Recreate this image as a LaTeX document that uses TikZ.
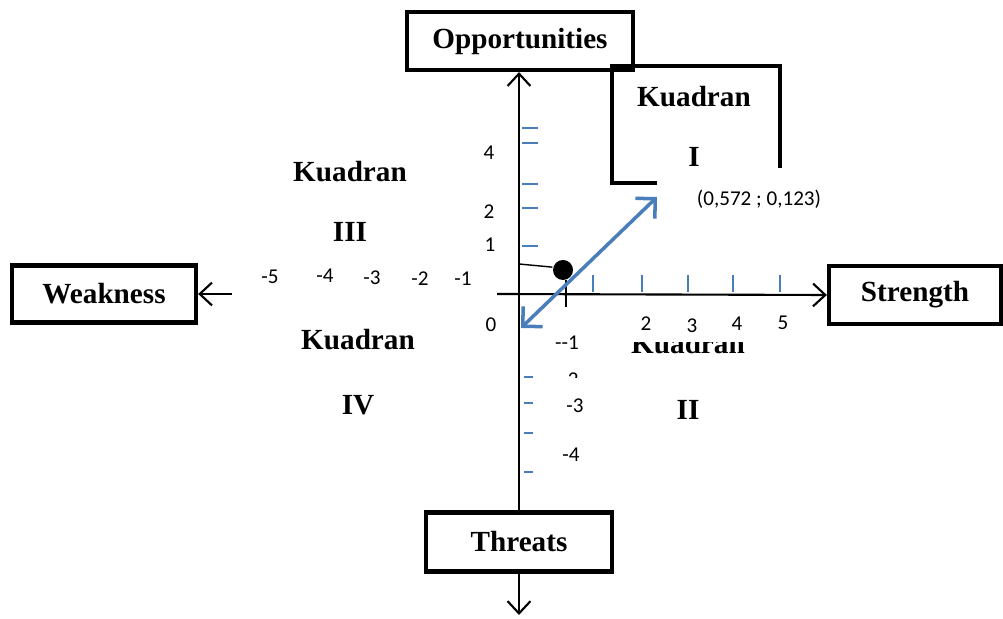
\documentclass[tikz,border=0pt]{standalone}
\usepackage{fontspec}
\setmainfont{Liberation Serif}
\newfontfamily\numfont{Carlito}
\usetikzlibrary{arrows.meta}
\definecolor{axisblue}{RGB}{74,126,187}
\tikzset{
  swotbox/.style={draw, line width=1.2pt, inner sep=0pt, font=\bfseries\fontsize{8.3}{10}\selectfont},
  kuadran/.style={inner sep=0pt, font=\bfseries\fontsize{8.3}{10}\selectfont},
  angka/.style={inner sep=0pt, font=\numfont\fontsize{6}{7}\selectfont},
  bluetick/.style={draw=axisblue, line width=0.45pt},
}
\begin{document}
\begin{tikzpicture}[x=0.01cm,y=-0.01cm,line width=0.6pt,>={Straight Barb[length=3.5pt,width=6.5pt]}]
                \useasboundingbox (0,0) rectangle (1003,619);
                % kotak SWOT
                \node[swotbox, minimum width=2.26cm, minimum height=0.58cm] (opp) at (520,41) {Opportunities};
                \node[swotbox, minimum width=1.84cm, minimum height=0.57cm] (weak) at (104,294) {Weakness};
                \node[swotbox, minimum width=1.72cm, minimum height=0.58cm] (str) at (915,295) {Strength};
                \node[swotbox, minimum width=1.86cm, minimum height=0.59cm] (thr) at (519,542) {Threats};
                % sumbu
                \coordinate (xkiri) at (497,294);
                \coordinate (wekor) at (232,294);
                \coordinate (bawah) at (519,615);
                \draw [->] (thr.north) -- (thr.north |- opp.south);
                \draw [->] (xkiri) -- (str.west);
                \draw [->] (wekor) -- (weak.east);
                \draw [->] (thr.south) -- (bawah);
                % kuadran I
                \draw [line width=1.2pt] (657,183) -- (612,183) -- (612,66) -- (780,66) -- (780,168);
                % skala
                \foreach \x in {593,642,688,733,780} \draw [bluetick] (\x,275) -- (\x,292);
                \foreach \y in {128,143,184,208,246} \draw [bluetick] (522,\y) -- (538,\y);
                \foreach \y in {377,403,433,472} \draw [bluetick] (524,\y) -- (533,\y);
                \foreach \t/\x/\y in {-5/270/277, -4/325/276, -3/372/278, -2/420/279, -1/463/279,
                        2/646/324, 3/692/326, 4/737/324, 5/783/323,
                        4/489/153, 2/489/212, 1/490/245, 0/491/325, -{}-1/567/343, -3/575/406, -4/571/455}
                    \node [angka] (n\x-\y) at (\x,\y) {\t};
                \begin{scope}
                    \clip (540,360) rectangle (600,378);
                    \node [angka] (n2) at (570,380) {-2};
                \end{scope}
                % kuadran
                \node [kuadran] (k1a) at (694,97) {Kuadran};
                \node [kuadran] (k1b) at (694,157) {I};
                \begin{scope}
                    \clip (600,343) rectangle (800,365);
                    \node [kuadran, anchor=base] (k2a) at (688,354) {Kuadran};
                \end{scope}
                \node [kuadran] (k2b) at (688,410) {II};
                \node [kuadran] (k3a) at (350,172) {Kuadran};
                \node [kuadran] (k3b) at (350,232) {III};
                \node [kuadran] (k4a) at (358,340) {Kuadran};
                \node [kuadran] (k4b) at (358,405) {IV};
                % titik
                \node [circle, fill, minimum size=0.2cm, inner sep=0pt] (dot) at (563,270) {};
                \coordinate (ysb) at (519,264);
                \draw [line width=0.4pt] (ysb) -- (dot.165);
                \draw (566,280) -- (566,307);
                \coordinate (va) at (521,328);
                \coordinate (vb) at (657,197);
                \draw [axisblue, line width=1pt, <->, >={Straight Barb[length=4pt,width=8pt]}] (va) -- (vb);
                \node [angka] (pt) at (759,199) {(0,572 ; 0,123)};
            \end{tikzpicture}
\end{document}
